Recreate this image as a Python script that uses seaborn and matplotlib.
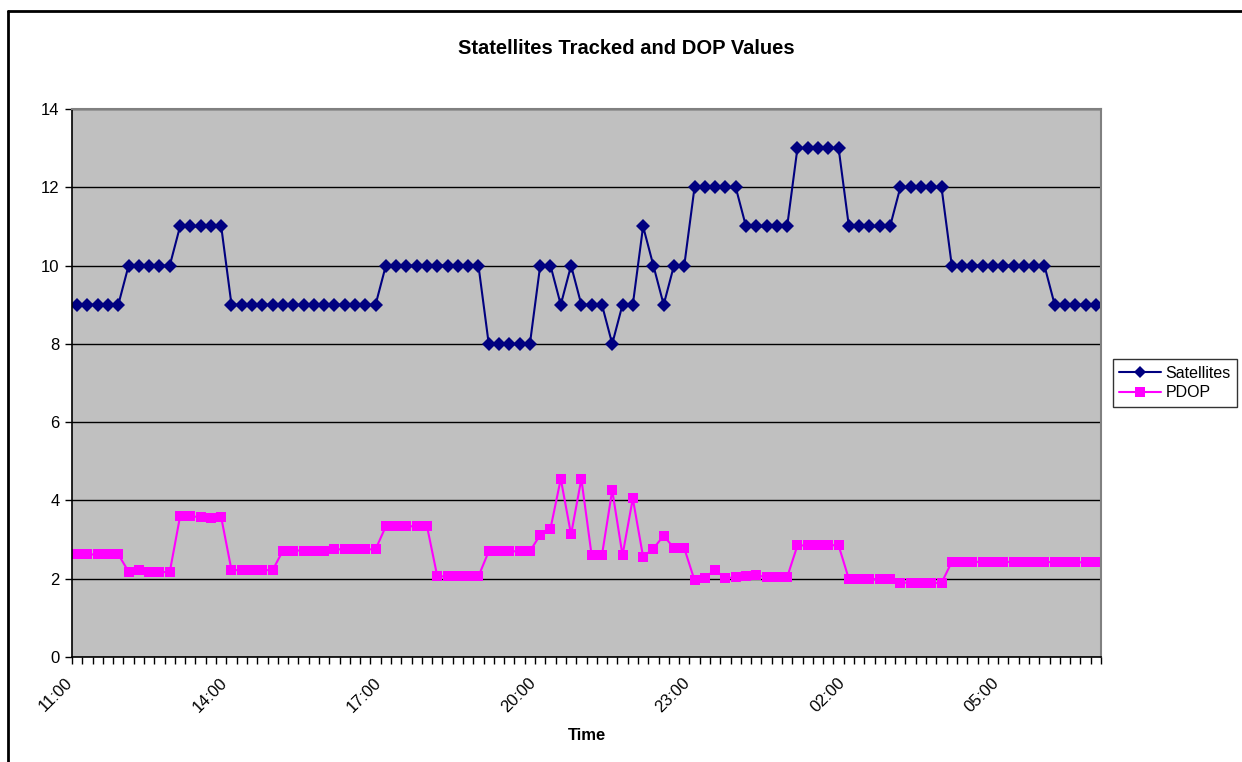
import matplotlib
matplotlib.use("Agg")
import matplotlib.pyplot as plt
import matplotlib.transforms as mtransforms
from matplotlib.lines import Line2D
import seaborn as sns
import pandas as pd
import numpy as np

# Satellites tracked per 12-minute sample, starting 11:00
satellites = [
    9, 9, 9, 9, 9,
    10, 10, 10, 10, 10,
    11, 11, 11, 11, 11,
    9, 9, 9, 9, 9, 9, 9, 9, 9, 9, 9, 9, 9, 9, 9,
    10, 10, 10, 10, 10, 10, 10, 10, 10, 10,
    8, 8, 8, 8, 8,
    10, 10, 9, 10, 9, 9, 9, 8, 9, 9, 11, 10, 9, 10, 10,
    12, 12, 12, 12, 12,
    11, 11, 11, 11, 11,
    13, 13, 13, 13, 13,
    11, 11, 11, 11, 11,
    12, 12, 12, 12, 12,
    10, 10, 10, 10, 10, 10, 10, 10, 10, 10,
    9, 9, 9, 9, 9,
]

# Position dilution of precision for the same samples
pdop = [
    2.62, 2.62, 2.62, 2.62, 2.62,
    2.18, 2.23, 2.17, 2.17, 2.17,
    3.59, 3.59, 3.58, 3.56, 3.57,
    2.22, 2.22, 2.22, 2.22, 2.22,
    2.72, 2.72, 2.72, 2.72, 2.72,
    2.75, 2.75, 2.75, 2.75, 2.75,
    3.34, 3.34, 3.34, 3.34, 3.34,
    2.06, 2.06, 2.06, 2.06, 2.06,
    2.70, 2.70, 2.70, 2.70, 2.70,
    3.12, 3.28, 4.55, 3.13, 4.55,
    2.60, 2.60, 4.26, 2.60, 4.05,
    2.56, 2.77, 3.10, 2.78, 2.78,
    1.96, 2.03, 2.22, 2.01, 2.04,
    2.06, 2.09, 2.04, 2.04, 2.04,
    2.85, 2.85, 2.86, 2.86, 2.85,
    1.99, 1.99, 1.99, 1.99, 1.99,
    1.90, 1.90, 1.89, 1.89, 1.89,
    2.43, 2.43, 2.43, 2.43, 2.43, 2.43, 2.43, 2.43, 2.43, 2.43,
    2.42, 2.42, 2.42, 2.42, 2.42,
]

time_labels = ["11:00", "14:00", "17:00", "20:00", "23:00", "02:00", "05:00"]
label_every = 15  # samples between labelled times

df = pd.DataFrame({
    "sample": np.arange(len(satellites)),
    "Satellites": satellites,
    "PDOP": pdop,
})

sns.set_style("white")
plt.rcParams["font.family"] = ["Liberation Sans", "DejaVu Sans"]
plt.rcParams["text.color"] = "black"
plt.rcParams["axes.labelcolor"] = "black"
plt.rcParams["xtick.color"] = "black"
plt.rcParams["ytick.color"] = "black"

W, H = 1242, 762
fig = plt.figure(figsize=(W / 100, H / 100), dpi=100)
ax = fig.add_axes([72 / W, 1 - 657 / H, (1101 - 72) / W, (657 - 109) / H])
ax.set_facecolor("#C0C0C0")

sns.lineplot(data=df, x="sample", y="Satellites", ax=ax, color="#000080",
             marker="D", markersize=7.5, markeredgewidth=0, linewidth=1.5,
             label="Satellites")
sns.lineplot(data=df, x="sample", y="PDOP", ax=ax, color="#FF00FF",
             marker="s", markersize=7.5, markeredgewidth=0, linewidth=1.5,
             label="PDOP")

n = len(satellites)
ax.set_xlim(-0.5, n - 0.5)
ax.set_ylim(0, 14)
ax.set_yticks(np.arange(0, 15, 2))
ax.yaxis.grid(True, color="black", linewidth=1)
ax.set_axisbelow(True)

# category boundaries get small tick marks; labels sit under sample centres
ax.set_xticks(np.arange(-0.5, n, 1.0), minor=True)
ax.set_xticks(np.arange(0, n, label_every)[:len(time_labels)])
ax.set_xticklabels(time_labels, rotation=45, ha="right",
                   rotation_mode="anchor", fontsize=12)
ax.tick_params(axis="x", which="major", length=0, pad=13)
ax.tick_params(axis="x", which="minor", length=5, width=1, color="black",
               direction="out", bottom=True)
ax.tick_params(axis="y", length=5, width=1, color="black", direction="out",
               left=True, labelsize=12, pad=4)
shift = mtransforms.ScaledTranslation(-12 / 100, 0, fig.dpi_scale_trans)
for lbl in ax.get_xticklabels():
    lbl.set_transform(lbl.get_transform() + shift)

for side in ("left", "bottom"):
    ax.spines[side].set_color("black")
    ax.spines[side].set_linewidth(1.2)
for side in ("top", "right"):
    ax.spines[side].set_color("#808080")
    ax.spines[side].set_linewidth(1.5)

ax.set_xlabel("Time", fontsize=12, fontweight="bold", labelpad=9)
ax.set_ylabel("")

fig.text(626 / W, 1 - 49 / H, "Statellites Tracked and DOP Values",
         ha="center", va="center", fontsize=14.5, fontweight="bold")

leg = ax.legend(loc="center left", bbox_to_anchor=(1113 / W, 1 - 383 / H),
                bbox_transform=fig.transFigure, frameon=True, fancybox=False,
                fontsize=11.5, handlelength=2.6, handletextpad=0.3,
                borderpad=0.4, labelspacing=0.3, borderaxespad=0)
leg.get_frame().set_edgecolor("black")
leg.get_frame().set_linewidth(1)
for h in leg.legend_handles:
    h.set_markersize(6.5)

# outer chart frame (open at right and bottom edges)
fig.add_artist(Line2D([8 / W, 8 / W], [0, 1 - 11 / H], transform=fig.transFigure,
                      color="black", linewidth=2))
fig.add_artist(Line2D([8 / W, 1], [1 - 11 / H, 1 - 11 / H], transform=fig.transFigure,
                      color="black", linewidth=2))

fig.savefig("out.png", dpi=100, facecolor="white")
